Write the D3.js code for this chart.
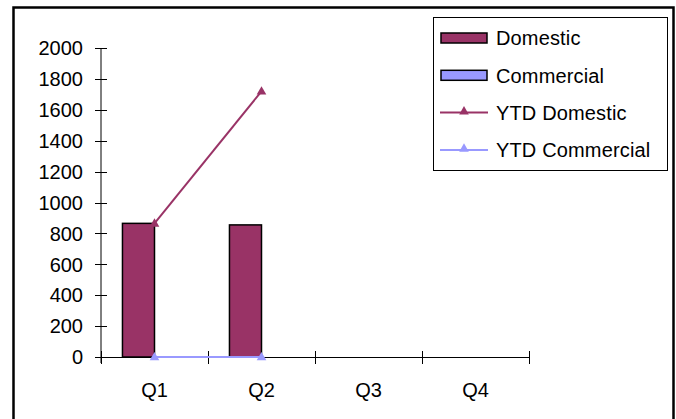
<!DOCTYPE html>
<html>
<head>
<meta charset="utf-8">
<script src="https://cdn.jsdelivr.net/npm/d3@7"></script>
<style>
  body { margin: 0; background: #fff; }
  svg text { font-family: "Liberation Sans", Arial, sans-serif; font-size: 20px; fill: #000; }
</style>
</head>
<body>
<svg id="chart" width="676" height="419"></svg>
<script>
// data
var quarters = ["Q1", "Q2", "Q3", "Q4"];
var seriesNames = ["Domestic", "Commercial"];
var domestic = [865, 855, null, null];
var commercial = [0, 0, null, null];
var ytdDomestic = [865, 1720];
var ytdCommercial = [0, 0];
var yTicks = [0, 200, 400, 600, 800, 1000, 1200, 1400, 1600, 1800, 2000];

var colors = { "Domestic": "#993366", "Commercial": "#9999ff" };

var svg = d3.select("#chart");

// outer frame (bottom edge sits below the picture)
svg.append("rect")
    .attr("x", 13.5).attr("y", 7.5)
    .attr("width", 660).attr("height", 430)
    .attr("fill", "none").attr("stroke", "#000").attr("stroke-width", 2.5);

var x = d3.scaleBand().domain(quarters).range([101, 529]);
var x1 = d3.scaleBand().domain(seriesNames).range([0, x.bandwidth()])
    .paddingInner(0).paddingOuter(0.67);
var y = d3.scaleLinear().domain([0, 2000]).range([357, 48]);

// bars
var barData = [];
quarters.forEach(function(q, i) {
    if (domestic[i] != null) barData.push({ q: q, s: "Domestic", v: domestic[i] });
    if (commercial[i] != null) barData.push({ q: q, s: "Commercial", v: commercial[i] });
});
svg.append("g").selectAll("rect")
    .data(barData.filter(function(d) { return d.v > 0; }))
    .enter().append("rect")
    .attr("x", function(d) { return x(d.q) + x1(d.s); })
    .attr("y", function(d) { return y(d.v); })
    .attr("width", x1.bandwidth())
    .attr("height", function(d) { return y(0) - y(d.v); })
    .attr("fill", function(d) { return colors[d.s]; })
    .attr("stroke", "#000").attr("stroke-width", 1.5);

// y axis with crossing ticks
var yAxis = svg.append("g");
yAxis.append("line")
    .attr("x1", 101).attr("x2", 101).attr("y1", y(2000)).attr("y2", y(0) + 6)
    .attr("stroke", "#000");
yAxis.selectAll(".tk").data(yTicks).enter().append("line")
    .attr("x1", 95).attr("x2", 107)
    .attr("y1", function(d) { return Math.round(y(d)) + 0.5; })
    .attr("y2", function(d) { return Math.round(y(d)) + 0.5; })
    .attr("stroke", "#000");
yAxis.selectAll("text").data(yTicks).enter().append("text")
    .attr("x", 83)
    .attr("y", function(d) { return y(d); })
    .attr("dy", "0.36em")
    .attr("text-anchor", "end")
    .text(function(d) { return d; });

// x axis with crossing ticks
var xAxis = svg.append("g");
xAxis.append("line")
    .attr("x1", 95).attr("x2", 529).attr("y1", 357.5).attr("y2", 357.5)
    .attr("stroke", "#000");
var xEdges = quarters.map(function(q) { return x(q); }).concat([x.range()[1]]);
xAxis.selectAll(".tk").data(xEdges).enter().append("line")
    .attr("x1", function(d) { return Math.round(d) + 0.5; })
    .attr("x2", function(d) { return Math.round(d) + 0.5; })
    .attr("y1", 351).attr("y2", 364)
    .attr("stroke", "#000");
xAxis.selectAll("text").data(quarters).enter().append("text")
    .attr("x", function(q) { return x(q) + x.bandwidth() / 2; })
    .attr("y", 390)
    .attr("dy", "0.36em")
    .attr("text-anchor", "middle")
    .text(function(d) { return d; });

// YTD lines
var tri = d3.symbol().type(d3.symbolTriangle).size(40);
function drawLine(vals, col) {
    var pts = vals.map(function(v, i) { return [x(quarters[i]) + x.bandwidth() / 2, y(v)]; });
    svg.append("path")
        .attr("d", d3.line()(pts))
        .attr("fill", "none").attr("stroke", col).attr("stroke-width", 2);
    svg.append("g").selectAll("path").data(pts).enter().append("path")
        .attr("d", tri)
        .attr("transform", function(p) { return "translate(" + p[0] + "," + (p[1] + 0.5) + ")"; })
        .attr("fill", col);
}
drawLine(ytdCommercial, colors["Commercial"]);
drawLine(ytdDomestic, colors["Domestic"]);

// legend
var legend = svg.append("g");
legend.append("rect")
    .attr("x", 433.5).attr("y", 17.5).attr("width", 234).attr("height", 153)
    .attr("fill", "#fff").attr("stroke", "#000").attr("stroke-width", 1);
var legendItems = [
    { name: "Domestic", kind: "bar", col: colors["Domestic"] },
    { name: "Commercial", kind: "bar", col: colors["Commercial"] },
    { name: "YTD Domestic", kind: "line", col: colors["Domestic"] },
    { name: "YTD Commercial", kind: "line", col: colors["Commercial"] }
];
legendItems.forEach(function(it, i) {
    var cy = 38 + i * 37.3;
    if (it.kind == "bar") {
        legend.append("rect")
            .attr("x", 441).attr("y", cy - 5).attr("width", 46).attr("height", 10)
            .attr("fill", it.col).attr("stroke", "#000").attr("stroke-width", 1.5);
    } else {
        legend.append("line")
            .attr("x1", 440).attr("x2", 488).attr("y1", cy).attr("y2", cy)
            .attr("stroke", it.col).attr("stroke-width", 2);
        legend.append("path").attr("d", tri)
            .attr("transform", "translate(464," + (cy - 1) + ")")
            .attr("fill", it.col);
    }
    legend.append("text")
        .attr("x", 496).attr("y", cy).attr("dy", "0.36em")
        .attr("letter-spacing", "0.15px")
        .text(it.name);
});
</script>
</body>
</html>
